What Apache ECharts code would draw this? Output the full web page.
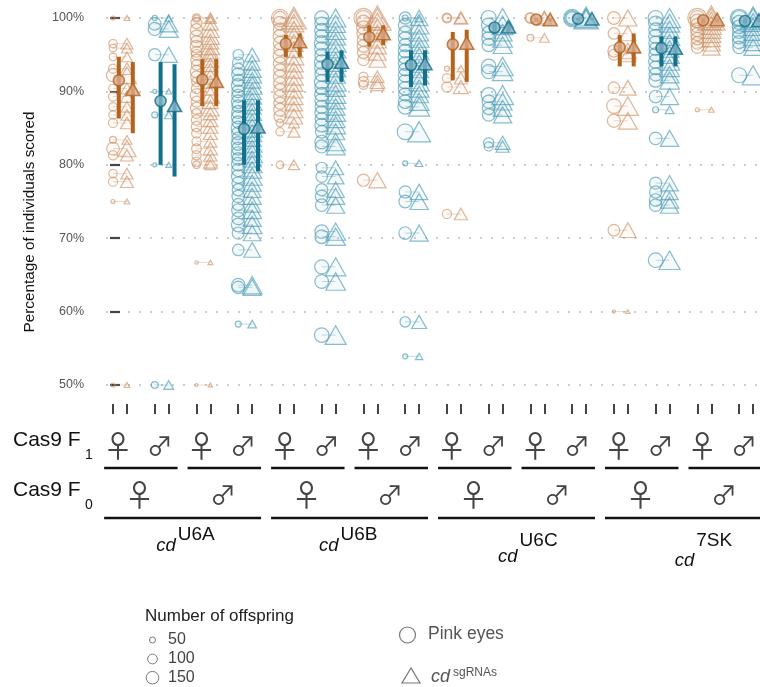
<!DOCTYPE html>
<html><head><meta charset="utf-8">
<script src="https://cdn.jsdelivr.net/npm/echarts@6/dist/echarts.min.js"></script>
<style>html,body{margin:0;padding:0;background:#fff}#c{width:760px;height:687px}</style>
</head><body><div id="c"></div>
<script>
// ---------------- DATA ----------------
const constructs = ['U6A', 'U6B', 'U6C', '7SK'];
const sexSymbols = ['♀', '♂'];
const yTicks = [50, 60, 70, 80, 90, 100];
const sizeLegend = [50, 100, 150];

// each record: [percentage of individuals scored, number of offspring]
// naming: construct_F0sex_F1sex (F = female, M = male)
const u6a_F_F = [[100,30],[96.5,80],[95.9,70],[94.7,70],[93.1,90],[92.2,160],[90.4,80],[89.3,90],[87.9,80],[86.8,80],[85.7,90],[83.4,60],[82.2,150],[81.3,90],[78.8,80],[77.7,90],[75,30],[50,30]];
const u6a_F_M = [[100,40],[99.2,150],[98.5,160],[95,140],[90,30],[86.8,50],[80,30],[50,60]];
const u6a_M_F = [[100,80],[100,50],[99.3,120],[98.4,140],[97.5,150],[96.8,130],[96.1,150],[95.4,120],[95.0,110],[94.3,130],[93.6,110],[92.7,150],[92.0,130],[91.3,100],[90.4,110],[89.5,150],[88.6,120],[87.7,140],[87.0,100],[86.1,110],[85.2,110],[84.3,100],[83.2,90],[82.2,100],[81.3,90],[80.4,100],[80.0,70],[66.7,25],[50,20]];
const u6a_M_M = [[95.0,110],[93.9,130],[93.0,150],[92.3,160],[91.5,140],[90.8,170],[90.0,150],[89.4,160],[88.6,170],[88.0,150],[87.2,160],[86.5,170],[85.8,150],[85.0,180],[84.3,160],[83.6,150],[82.9,170],[82.2,160],[81.5,180],[80.8,150],[80.1,170],[79.3,160],[78.4,170],[77.5,150],[76.6,140],[75.7,150],[74.6,140],[73.8,160],[72.7,150],[71.8,170],[70.7,140],[68.4,130],[63.6,170],[63.3,150],[58.3,50]];
const u6b_F_F = [[100,250],[100,160],[99.3,170],[98.4,160],[97.5,170],[96.6,160],[95.7,150],[94.8,170],[93.8,160],[92.9,150],[92.0,160],[91.1,150],[90.2,150],[89.3,150],[88.4,140],[87.5,150],[86.6,140],[85.7,70],[84.5,80],[80.0,70]];
const u6b_F_M = [[100,180],[99.2,170],[98.3,180],[97.5,170],[96.6,190],[95.8,180],[94.9,170],[94.0,190],[93.2,180],[92.3,170],[91.3,190],[90.5,170],[89.6,180],[88.8,170],[87.9,160],[87.1,170],[86.2,160],[85.4,170],[84.5,150],[83.1,170],[82.5,160],[79.6,120],[78.4,130],[76.6,140],[75.7,150],[74.5,150],[70.9,170],[70.2,170],[66.1,180],[64.1,170],[56.8,190]];
const u6b_M_F = [[100,300],[100,200],[99.5,160],[98.7,170],[97.9,160],[97.0,150],[96.2,150],[95.3,140],[94.3,130],[92.0,90],[91.3,110],[90.9,90],[77.9,140]];
const u6b_M_M = [[100,50],[100,140],[99.0,170],[98.0,160],[97.2,170],[96.3,160],[95.5,170],[94.7,180],[93.8,170],[93.0,160],[92.2,170],[91.3,180],[90.4,170],[89.6,160],[88.6,170],[87.9,190],[84.5,220],[80.2,40],[76.3,140],[75.0,150],[70.7,150],[58.6,110],[53.9,40]];
const u6c_F_F = [[100,100],[100,80],[93.1,40],[91.8,90],[90.6,110],[73.3,90]];
const u6c_F_M = [[100,200],[99.0,190],[98.0,160],[97.2,170],[96.3,160],[93.4,190],[92.7,180],[89.5,200],[88.6,160],[87.7,150],[86.8,150],[83.0,110],[82.5,90]];
const u6c_M_F = [[100,120],[100,90],[97.3,60]];
const u6c_M_M = [[100,250],[100,200],[100,150]];
const sk7_F_F = [[100,150],[97.9,130],[95.5,140],[95.0,120],[90.5,130],[88.0,190],[86.0,160],[71.1,130],[60,20]];
const sk7_F_M = [[100,200],[99.3,180],[98.4,170],[97.5,180],[96.6,170],[95.8,160],[95.0,170],[94.1,180],[93.2,170],[92.3,160],[91.5,170],[89.3,150],[87.5,50],[83.6,150],[77.5,140],[76.3,140],[75.2,150],[74.5,150],[67.0,190]];
const sk7_M_F = [[100,300],[100,200],[99.6,170],[99.0,180],[98.4,170],[97.8,160],[97.2,150],[96.6,150],[96.0,140],[87.5,30]];
const sk7_M_M = [[100,260],[100,200],[99.4,180],[98.8,170],[98.1,160],[97.4,170],[96.7,160],[96.0,150],[92.2,200]];

const groups = [u6a_F_F,u6a_F_M,u6a_M_F,u6a_M_M, u6b_F_F,u6b_F_M,u6b_M_F,u6b_M_M,
                u6c_F_F,u6c_F_M,u6c_M_F,u6c_M_M, sk7_F_F,sk7_F_M,sk7_M_F,sk7_M_M];

// group means with confidence intervals
const meanPink = [91.5,88.7,91.6,84.9,96.5,93.7,97.4,93.6,96.4,98.7,99.8,99.9,96.0,95.9,99.7,99.6];
const ciPinkLo = [86.3,80.0,88.0,80.0,94.7,91.3,96.1,90.6,91.5,97.9,99.5,99.7,93.4,93.4,99.3,99.3];
const ciPinkHi = [94.7,94.0,94.4,88.8,97.7,95.4,99.0,95.6,98.1,99.3,100,100,97.7,97.5,100,99.9];
const meanSg   = [90.3,88.1,91.4,85.2,96.8,94.0,97.9,93.8,96.6,98.8,99.8,99.9,96.1,95.9,99.8,99.7];
const ciSgLo   = [84.3,78.4,88.0,79.1,94.7,91.3,96.3,90.8,91.3,98.0,99.5,99.7,93.4,93.4,99.4,99.4];
const ciSgHi   = [94.0,93.7,94.4,88.8,97.9,95.6,99.0,95.6,98.4,99.4,100,100,97.9,97.5,100,100];

// ---------------- STYLE / LAYOUT ----------------
const FONT = 'Liberation Sans';
const SYMFONT = '"Noto Sans CJK JP", "DejaVu Sans"';
const OR = {pt:'rgba(204,146,102,0.8)', fill:'rgba(204,146,102,0.06)', link:'rgba(204,146,102,0.45)', bar:'#b4631d', mFill:'#d9aa8d', mBorder:'#b4631d'};
const BL = {pt:'rgba(70,153,180,0.8)', fill:'rgba(70,153,180,0.06)', link:'rgba(70,153,180,0.45)', bar:'#11708d', mFill:'#88b5c5', mBorder:'#11708d'};
const DX = 0.167, MDX = 0.14;
const XMIN = -0.335, XMAX = 15.31;
const sz = n => Math.max(3, 1.274 * Math.sqrt(n) - 3);

const chart = echarts.init(document.getElementById('c'), null, {renderer:'canvas'});

const series = [];
[0,1].forEach(c => {
  const P = c === 0 ? OR : BL;
  const circ = [], tri = [], links = [], bars = [], mC = [], mT = [];
  groups.forEach((g, i) => {
    if (i % 2 !== c) return;
    g.forEach(r => {
      circ.push([i - DX, r[0], r[1]]);
      tri.push([i + DX, r[0], r[1]]);
      links.push([i - DX, i + DX, r[0]]);
    });
    bars.push([i - DX + MDX, ciPinkLo[i], ciPinkHi[i]]);
    bars.push([i + DX + MDX, ciSgLo[i], ciSgHi[i]]);
    mC.push([i - DX + MDX, meanPink[i]]);
    mT.push([i + DX + MDX, meanSg[i]]);
  });
  series.push({
    type:'custom', data:links, encode:{x:[0,1], y:2}, z:1, silent:true,
    renderItem:(p, api) => {
      const a = api.coord([api.value(0), api.value(2)]);
      const b = api.coord([api.value(1), api.value(2)]);
      return {type:'line', shape:{x1:a[0], y1:a[1], x2:b[0], y2:b[1]}, style:{stroke:P.link, lineWidth:0.8}};
    }
  });
  series.push({type:'scatter', data:circ, symbol:'circle', clip:false, z:2, silent:true,
    symbolSize:v => sz(v[2]),
    itemStyle:{color:P.fill, borderColor:P.pt, borderWidth:1.2}});
  series.push({type:'scatter', data:tri, symbol:'triangle', clip:false, z:2, silent:true,
    symbolSize:v => { const s = sz(v[2]) * 1.45; return [s, s * 0.88]; },
    itemStyle:{color:P.fill, borderColor:P.pt, borderWidth:1.2}});
  series.push({
    type:'custom', data:bars, encode:{x:0, y:[1,2]}, z:5, silent:true,
    renderItem:(p, api) => {
      const a = api.coord([api.value(0), api.value(1)]);
      const b = api.coord([api.value(0), api.value(2)]);
      return {type:'line', shape:{x1:a[0], y1:a[1], x2:b[0], y2:b[1]}, style:{stroke:P.bar, lineWidth:4}};
    }
  });
  series.push({type:'scatter', data:mC, symbol:'circle', symbolSize:11, clip:false, z:6, silent:true,
    itemStyle:{color:P.mFill, borderColor:P.mBorder, borderWidth:1.6}});
  series.push({type:'scatter', data:mT, symbol:'triangle', symbolSize:[14,12.5], clip:false, z:6, silent:true,
    itemStyle:{color:P.mFill, borderColor:P.mBorder, borderWidth:1.6}});
});

const tickVals = [];
const f1Vals = [];
for (let i = 0; i < 16; i++) { tickVals.push(i - DX, i + DX); f1Vals.push(i - 0.05); }
const f0Vals = [];
for (let k = 0; k < 8; k++) f0Vals.push(2 * k + 0.47);

const sexRich = {
  f:{fontFamily:SYMFONT, fontSize:30, color:'#444', lineHeight:32},
  m:{fontFamily:SYMFONT, fontSize:26, color:'#444', lineHeight:32}
};
const sexLabel = idx => idx === 0 ? '{f|' + sexSymbols[0] + '}' : '{m|' + sexSymbols[1] + '}';

chart.setOption({
  animation:false,
  textStyle:{fontFamily:FONT},
  grid:{left:106, right:0, top:18, bottom:302, containLabel:false},
  xAxis:[
    {type:'value', min:XMIN, max:XMAX, position:'bottom', offset:19,
     axisLine:{show:false}, splitLine:{show:false},
     axisTick:{show:true, customValues:tickVals, length:10, lineStyle:{color:'#444', width:2}},
     axisLabel:{show:true, customValues:f1Vals, margin:42, verticalAlign:'middle', rich:sexRich,
       formatter:v => sexLabel(Math.round(v) % 2)}},
    {type:'value', min:XMIN, max:XMAX, position:'bottom', offset:0,
     axisLine:{show:false}, splitLine:{show:false}, axisTick:{show:false},
     axisLabel:{show:true, customValues:f0Vals, margin:110, verticalAlign:'middle', rich:sexRich,
       formatter:v => sexLabel(Math.round((v - 0.47) / 2) % 2)}}
  ],
  yAxis:{type:'value', min:50, max:100, interval:10,
    axisLine:{show:false},
    axisTick:{show:true, length:10, lineStyle:{color:'#444', width:2.2}},
    axisLabel:{formatter:'{value}%', color:'#555', fontSize:12.5, margin:22},
    splitLine:{show:true, lineStyle:{type:[2,9], color:'#bdbdbd', width:1.6}}},
  series
});

// ---------------- ANNOTATIONS (positions from the axis scale) ----------------
const px = v => chart.convertToPixel({xAxisIndex:0}, v);
const g = [];
for (let k = 0; k < 8; k++) {
  g.push({type:'line', shape:{x1:px(2*k - 0.38), y1:468, x2:px(2*k + 1.38), y2:468}, style:{stroke:'#111', lineWidth:2.4}});
}
for (let k = 0; k < 4; k++) {
  g.push({type:'line', shape:{x1:px(4*k - 0.38), y1:518, x2:px(4*k + 3.38), y2:518}, style:{stroke:'#111', lineWidth:2.4}});
}
g.push({type:'text', x:13, y:440, style:{text:'Cas9 F', font:`21px "${FONT}"`, fill:'#111', textVerticalAlign:'middle'}});
g.push({type:'text', x:85, y:455, style:{text:'1', font:`14px "${FONT}"`, fill:'#111', textVerticalAlign:'middle'}});
g.push({type:'text', x:13, y:490, style:{text:'Cas9 F', font:`21px "${FONT}"`, fill:'#111', textVerticalAlign:'middle'}});
g.push({type:'text', x:85, y:505, style:{text:'0', font:`14px "${FONT}"`, fill:'#111', textVerticalAlign:'middle'}});
const labelSplitX = [1.36, 5.26, 9.55, 13.78];
const cdY = [546, 546, 557, 561];
const supY = [535, 535, 541, 541];
constructs.forEach((name, k) => {
  const x = px(labelSplitX[k]);
  g.push({type:'text', x:x - 1, y:cdY[k], style:{text:'cd', font:`italic 18.5px "${FONT}"`, fill:'#111', textAlign:'right', textVerticalAlign:'middle'}});
  g.push({type:'text', x:x + 1, y:supY[k], style:{text:name, font:`19px "${FONT}"`, fill:'#111', textAlign:'left', textVerticalAlign:'middle'}});
});
g.push({type:'text', x:30, y:222, rotation:Math.PI/2, style:{text:'Percentage of individuals scored', font:`15.3px "${FONT}"`, fill:'#111', textAlign:'center', textVerticalAlign:'middle'}});
g.push({type:'text', x:145, y:616, style:{text:'Number of offspring', font:`17px "${FONT}"`, fill:'#222', textVerticalAlign:'middle'}});
const legY = [640, 659, 677.7];
sizeLegend.forEach((n, k) => {
  g.push({type:'circle', shape:{cx:152.5, cy:legY[k], r:sz(n)/2}, style:{fill:'none', stroke:'#777', lineWidth:1}});
  g.push({type:'text', x:168, y:legY[k], style:{text:String(n), font:`16px "${FONT}"`, fill:'#444', textVerticalAlign:'middle'}});
});
g.push({type:'circle', shape:{cx:407.5, cy:635, r:8}, style:{fill:'none', stroke:'#777', lineWidth:1.2}});
g.push({type:'text', x:428, y:634, style:{text:'Pink eyes', font:`17.5px "${FONT}"`, fill:'#555', textVerticalAlign:'middle'}});
g.push({type:'polygon', shape:{points:[[411,668],[402,683],[420,683]]}, style:{fill:'none', stroke:'#777', lineWidth:1.2}});
g.push({type:'text', x:431, y:677, style:{text:'cd', font:`italic 18px "${FONT}"`, fill:'#555', textVerticalAlign:'middle'}});
g.push({type:'text', x:453, y:673, style:{text:'sgRNAs', font:`12px "${FONT}"`, fill:'#555', textVerticalAlign:'middle'}});

chart.setOption({graphic:g});
</script>
</body></html>
